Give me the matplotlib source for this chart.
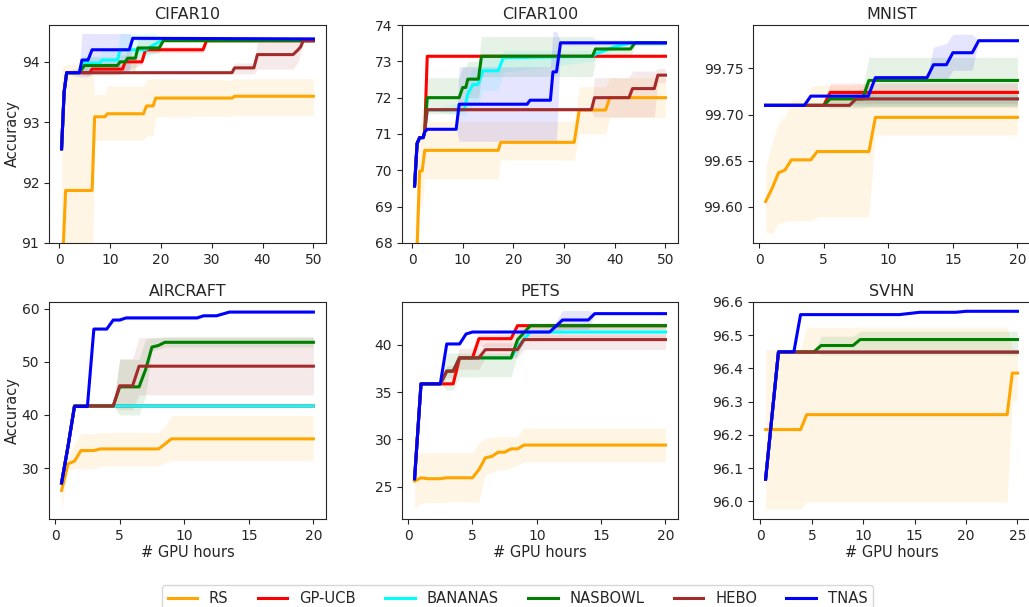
import matplotlib
matplotlib.use("Agg")
import matplotlib.pyplot as plt

METHODS = ["RS", "GP-UCB", "BANANAS", "NASBOWL", "HEBO", "TNAS"]
COLORS = ["orange", "red", "cyan", "green", "brown", "blue"]

# ---------------- CIFAR10 ----------------
C10_RS_X = [0.5, 1.3, 6.5, 7.0, 9.0, 9.5, 16.6, 17.2, 18.5, 19.0, 34.0, 34.5, 50]
C10_RS_Y = [90.3, 91.87, 91.87, 93.09, 93.09, 93.14, 93.14, 93.27, 93.27, 93.4, 93.4, 93.43, 93.43]
C10_RS_LO = [89.5, 90.0, 90.0, 92.7, 92.7, 92.7, 92.7, 92.77, 92.78, 93.09, 93.1, 93.11, 93.11]
C10_RS_HI = [93.9, 93.95, 93.95, 93.46, 93.46, 93.6, 93.6, 93.7, 93.73, 93.72, 93.7, 93.72, 93.72]
C10_GP_X = [0.5, 1.0, 1.5, 4.0, 6.0, 6.5, 12.5, 13.0, 16.3, 17.0, 28.3, 29.0, 50]
C10_GP_Y = [92.56, 93.5, 93.82, 93.82, 93.82, 93.88, 93.88, 94.0, 94.0, 94.2, 94.2, 94.35, 94.35]
C10_GP_LO = [92.56, 93.5, 93.82, 93.82, 93.8, 93.8, 93.8, 93.85, 93.95, 94.15, 94.15, 94.33, 94.33]
C10_GP_HI = [92.56, 93.5, 93.82, 93.82, 93.85, 93.95, 93.95, 94.1, 94.1, 94.25, 94.25, 94.37, 94.37]
C10_BA_X = [0.5, 1.0, 1.5, 4.0, 4.5, 8.0, 8.5, 11.5, 12.0, 17.0, 19.0, 20.5, 50]
C10_BA_Y = [92.56, 93.5, 93.82, 93.82, 93.98, 93.98, 94.03, 94.03, 94.2, 94.2, 94.3, 94.37, 94.37]
C10_BA_LO = [92.56, 93.5, 93.82, 93.82, 93.85, 93.85, 93.9, 93.9, 94.05, 94.05, 94.15, 94.35, 94.35]
C10_BA_HI = [92.56, 93.5, 93.82, 93.82, 94.1, 94.1, 94.2, 94.2, 94.47, 94.47, 94.47, 94.39, 94.39]
C10_NB_X = [0.5, 1.0, 1.5, 4.0, 5.0, 11.5, 12.0, 13.0, 13.5, 15.0, 15.5, 19.7, 20.5, 50]
C10_NB_Y = [92.56, 93.5, 93.82, 93.82, 93.94, 93.94, 94.0, 94.0, 94.06, 94.06, 94.23, 94.23, 94.35, 94.35]
C10_NB_LO = [92.56, 93.5, 93.82, 93.82, 93.78, 93.78, 93.8, 93.8, 93.85, 93.85, 94.1, 94.15, 94.33, 94.33]
C10_NB_HI = [92.56, 93.5, 93.82, 93.82, 94.08, 94.08, 94.12, 94.12, 94.2, 94.2, 94.38, 94.4, 94.37, 94.37]
C10_HB_X = [0.5, 1.0, 1.5, 4.0, 34.0, 34.5, 38.3, 39.0, 46.0, 47.0, 47.5, 48.0, 50]
C10_HB_Y = [92.56, 93.5, 93.82, 93.82, 93.82, 93.9, 93.9, 94.12, 94.12, 94.2, 94.25, 94.35, 94.35]
C10_HB_LO = [92.56, 93.5, 93.82, 93.82, 93.82, 93.8, 93.8, 93.88, 93.88, 94.0, 94.15, 94.33, 94.33]
C10_HB_HI = [92.56, 93.5, 93.82, 93.82, 93.82, 93.98, 93.98, 94.33, 94.33, 94.33, 94.35, 94.37, 94.37]
C10_TN_X = [0.5, 1.0, 1.5, 4.0, 4.5, 5.7, 6.5, 13.8, 14.5, 50]
C10_TN_Y = [92.56, 93.5, 93.82, 93.82, 94.03, 94.03, 94.2, 94.2, 94.39, 94.38]
C10_TN_LO = [92.56, 93.5, 93.8, 93.75, 93.75, 93.75, 93.8, 93.85, 94.36, 94.37]
C10_TN_HI = [92.56, 93.5, 93.85, 93.9, 94.47, 94.47, 94.47, 94.47, 94.42, 94.39]

# ---------------- CIFAR100 ----------------
C100_RS_X = [0.5, 1.0, 1.5, 2.0, 2.5, 17.0, 17.5, 32.0, 33.0, 38.2, 39.0, 50]
C100_RS_Y = [66.0, 67.9, 69.98, 69.98, 70.55, 70.55, 70.77, 70.77, 71.66, 71.66, 72.0, 72.0]
C100_RS_LO = [64.0, 66.0, 69.0, 69.0, 69.77, 69.77, 70.28, 70.28, 71.0, 71.0, 71.45, 71.45]
C100_RS_HI = [68.0, 70.0, 71.3, 71.3, 71.35, 71.35, 71.35, 71.35, 72.3, 72.3, 72.55, 72.55]
C100_GP_X = [0.5, 1.0, 1.5, 2.2, 2.5, 3.0, 50]
C100_GP_Y = [69.57, 70.74, 70.9, 70.9, 71.06, 73.14, 73.14]
C100_GP_LO = [69.57, 70.74, 70.9, 70.9, 71.06, 73.1, 73.1]
C100_GP_HI = [69.57, 70.74, 70.9, 70.9, 71.06, 73.18, 73.18]
C100_BA_X = [0.5, 1.0, 1.5, 2.2, 2.5, 3.0, 10.3, 11.0, 12.0, 13.0, 14.0, 17.0, 18.0, 35.6, 36.2, 40.0, 43.0, 50]
C100_BA_Y = [69.57, 70.74, 70.9, 70.9, 71.06, 71.66, 71.66, 72.1, 72.36, 72.36, 72.74, 72.74, 73.1, 73.14, 73.2, 73.4, 73.51, 73.51]
C100_BA_LO = [69.57, 70.74, 70.9, 70.9, 71.06, 71.66, 71.5, 71.6, 71.8, 71.8, 72.2, 72.2, 72.7, 73.0, 73.1, 73.3, 73.45, 73.45]
C100_BA_HI = [69.57, 70.74, 70.9, 70.9, 71.06, 71.66, 71.9, 72.5, 72.8, 72.8, 73.1, 73.1, 73.3, 73.3, 73.35, 73.5, 73.56, 73.56]
C100_NB_X = [0.5, 1.0, 1.5, 2.2, 2.5, 3.0, 9.3, 10.0, 10.6, 11.0, 13.1, 13.7, 35.6, 36.2, 43.1, 44.0, 50]
C100_NB_Y = [69.57, 70.74, 70.9, 70.9, 71.06, 72.0, 72.0, 72.28, 72.28, 72.51, 72.51, 73.14, 73.14, 73.34, 73.34, 73.51, 73.51]
C100_NB_LO = [69.57, 70.74, 70.9, 70.9, 71.06, 71.56, 71.56, 71.8, 71.8, 72.0, 72.0, 72.58, 72.58, 73.1, 73.1, 73.45, 73.45]
C100_NB_HI = [69.57, 70.74, 70.9, 70.9, 71.06, 72.55, 72.55, 72.85, 72.85, 73.0, 73.0, 73.68, 73.68, 73.6, 73.6, 73.56, 73.56]
C100_HB_X = [0.5, 1.0, 1.5, 2.2, 2.5, 3.0, 35.4, 36.0, 42.8, 43.5, 47.8, 48.5, 50]
C100_HB_Y = [69.57, 70.74, 70.9, 70.9, 71.06, 71.67, 71.67, 72.0, 72.0, 72.25, 72.25, 72.62, 72.62]
C100_HB_LO = [69.57, 70.74, 70.9, 70.9, 71.06, 71.62, 71.62, 71.47, 71.47, 71.47, 71.47, 72.42, 72.42]
C100_HB_HI = [69.57, 70.74, 70.9, 70.9, 71.06, 71.72, 71.72, 72.55, 72.55, 72.73, 72.73, 72.8, 72.8]
C100_TN_X = [0.5, 1.0, 1.5, 2.2, 2.5, 3.0, 8.7, 9.3, 22.7, 23.3, 27.3, 27.8, 28.5, 29.3, 50]
C100_TN_Y = [69.57, 70.74, 70.9, 70.9, 71.06, 71.13, 71.13, 71.82, 71.82, 71.93, 71.93, 72.71, 72.71, 73.51, 73.51]
C100_TN_LO = [69.57, 70.74, 70.9, 70.9, 71.06, 71.13, 71.13, 70.8, 70.8, 70.8, 70.8, 70.8, 70.8, 73.45, 73.45]
C100_TN_HI = [69.57, 70.74, 70.9, 70.9, 71.06, 71.13, 71.13, 72.85, 72.85, 72.85, 72.85, 73.83, 73.83, 73.56, 73.56]

# ---------------- MNIST ----------------
MN_RS_X = [0.5, 1.0, 1.5, 2.0, 2.5, 3.5, 4.0, 4.5, 8.5, 9.0, 20]
MN_RS_Y = [99.606, 99.62, 99.637, 99.64, 99.651, 99.651, 99.651, 99.66, 99.66, 99.697, 99.697]
MN_RS_LO = [99.573, 99.571, 99.582, 99.584, 99.585, 99.585, 99.585, 99.589, 99.589, 99.678, 99.678]
MN_RS_HI = [99.643, 99.669, 99.692, 99.698, 99.716, 99.716, 99.73, 99.732, 99.732, 99.716, 99.716]
MN_GP_X = [0.5, 5.0, 5.5, 20]
MN_GP_Y = [99.71, 99.71, 99.724, 99.724]
MN_GP_LO = [99.71, 99.71, 99.712, 99.712]
MN_GP_HI = [99.71, 99.71, 99.734, 99.734]
MN_BA_X = [0.5, 7.0, 7.5, 20]
MN_BA_Y = [99.71, 99.71, 99.717, 99.717]
MN_BA_LO = [99.71, 99.71, 99.71, 99.71]
MN_BA_HI = [99.71, 99.71, 99.722, 99.722]
MN_NB_X = [0.5, 5.0, 5.5, 8.0, 8.5, 20]
MN_NB_Y = [99.71, 99.71, 99.717, 99.717, 99.737, 99.737]
MN_NB_LO = [99.71, 99.71, 99.707, 99.707, 99.708, 99.708]
MN_NB_HI = [99.71, 99.71, 99.727, 99.727, 99.762, 99.762]
MN_HB_X = [0.5, 7.0, 7.5, 20]
MN_HB_Y = [99.71, 99.71, 99.717, 99.717]
MN_HB_LO = [99.71, 99.71, 99.709, 99.709]
MN_HB_HI = [99.71, 99.71, 99.727, 99.727]
MN_TN_X = [0.5, 3.5, 4.0, 8.45, 9.0, 13.0, 13.5, 14.5, 15.0, 16.5, 17.0, 20]
MN_TN_Y = [99.71, 99.71, 99.72, 99.72, 99.74, 99.74, 99.754, 99.754, 99.767, 99.767, 99.78, 99.78]
MN_TN_LO = [99.71, 99.71, 99.72, 99.72, 99.74, 99.74, 99.736, 99.736, 99.748, 99.748, 99.78, 99.78]
MN_TN_HI = [99.71, 99.71, 99.72, 99.72, 99.74, 99.74, 99.773, 99.777, 99.787, 99.787, 99.78, 99.78]

# ---------------- AIRCRAFT ----------------
AC_RS_X = [0.5, 1.0, 1.5, 2.0, 3.0, 3.5, 8.0, 8.5, 9.0, 20]
AC_RS_Y = [25.8, 30.8, 31.3, 33.3, 33.3, 33.6, 33.6, 34.5, 35.5, 35.5]
AC_RS_LO = [22.3, 29.7, 29.8, 29.9, 29.9, 30.4, 30.4, 31.0, 31.4, 31.4]
AC_RS_HI = [27.8, 32.2, 34.5, 36.5, 36.5, 36.7, 36.7, 37.9, 39.9, 39.9]
AC_GP_X = [0.5, 1.0, 1.5, 20]
AC_GP_Y = [27.2, 34.1, 41.7, 41.7]
AC_GP_LO = [27.2, 34.1, 41.7, 41.7]
AC_GP_HI = [27.2, 34.1, 41.7, 41.7]
AC_BA_X = [0.5, 1.0, 1.5, 20]
AC_BA_Y = [27.2, 34.1, 41.7, 41.7]
AC_BA_LO = [27.2, 34.1, 41.7, 41.7]
AC_BA_HI = [27.2, 34.1, 41.7, 41.7]
AC_NB_X = [0.5, 1.0, 1.5, 4.5, 5.0, 6.5, 7.0, 7.5, 8.0, 8.5, 20]
AC_NB_Y = [27.2, 34.1, 41.7, 41.7, 45.3, 45.3, 48.5, 52.8, 53.1, 53.7, 53.7]
AC_NB_LO = [27.2, 34.1, 41.7, 41.7, 40.0, 40.0, 43.5, 52.0, 52.4, 52.8, 52.8]
AC_NB_HI = [27.2, 34.1, 41.7, 41.7, 50.5, 50.5, 54.3, 54.5, 54.6, 54.8, 54.8]
AC_HB_X = [0.5, 1.0, 1.5, 4.5, 5.0, 6.0, 6.5, 20]
AC_HB_Y = [27.2, 34.1, 41.7, 41.7, 45.5, 45.5, 49.2, 49.2]
AC_HB_LO = [27.2, 34.1, 41.7, 41.7, 41.0, 41.0, 43.8, 43.8]
AC_HB_HI = [27.2, 34.1, 41.7, 41.7, 50.6, 50.6, 54.6, 54.6]
AC_TN_X = [0.5, 1.0, 1.5, 2.5, 3.0, 4.0, 4.5, 5.0, 5.5, 11.0, 11.5, 12.5, 13.5, 20]
AC_TN_Y = [27.2, 34.1, 41.6, 41.6, 56.2, 56.2, 57.9, 57.9, 58.3, 58.3, 58.7, 58.7, 59.4, 59.4]
AC_TN_LO = [27.2, 34.1, 41.6, 41.6, 56.0, 56.0, 57.6, 57.6, 58.0, 58.0, 58.5, 58.5, 59.2, 59.2]
AC_TN_HI = [27.2, 34.1, 41.6, 41.6, 56.4, 56.4, 58.2, 58.2, 58.6, 58.6, 58.9, 58.9, 59.6, 59.6]

# ---------------- PETS ----------------
PT_RS_X = [0.5, 1.0, 1.5, 2.5, 3.0, 5.0, 5.5, 6.0, 6.5, 7.0, 7.5, 8.0, 8.5, 9.0, 20]
PT_RS_Y = [25.6, 25.95, 25.85, 25.85, 25.95, 25.95, 26.8, 28.06, 28.2, 28.65, 28.65, 29.0, 29.0, 29.4, 29.4]
PT_RS_LO = [22.7, 23.3, 23.3, 23.3, 23.4, 23.4, 23.4, 26.3, 26.5, 26.8, 26.8, 27.0, 27.3, 27.6, 27.6]
PT_RS_HI = [28.6, 28.6, 28.6, 28.6, 28.6, 28.6, 29.6, 30.1, 30.2, 30.3, 30.3, 30.3, 30.3, 31.2, 31.2]
PT_GP_X = [0.5, 1.0, 2.5, 3.5, 4.0, 5.0, 5.5, 8.0, 8.5, 20]
PT_GP_Y = [25.85, 35.86, 35.86, 35.86, 38.6, 38.6, 40.63, 40.63, 42.0, 42.0]
PT_GP_LO = [25.85, 35.86, 35.86, 35.86, 38.6, 38.6, 39.8, 39.8, 40.8, 40.8]
PT_GP_HI = [25.85, 35.86, 35.86, 35.86, 38.6, 38.6, 41.1, 41.1, 42.2, 42.2]
PT_BA_X = [0.5, 1.0, 2.5, 3.0, 3.5, 4.0, 8.0, 8.5, 9.5, 20]
PT_BA_Y = [25.85, 35.86, 35.86, 37.2, 37.2, 38.6, 38.6, 39.8, 41.33, 41.33]
PT_BA_LO = [25.85, 35.86, 35.86, 37.2, 37.2, 38.6, 38.6, 38.9, 41.1, 41.1]
PT_BA_HI = [25.85, 35.86, 35.86, 37.2, 37.2, 38.6, 38.6, 40.5, 41.5, 41.5]
PT_NB_X = [0.5, 1.0, 2.5, 3.0, 3.5, 4.0, 8.0, 8.5, 9.5, 20]
PT_NB_Y = [25.85, 35.86, 35.86, 37.2, 37.2, 38.6, 38.6, 40.5, 42.0, 42.0]
PT_NB_LO = [25.85, 35.86, 35.86, 35.2, 35.2, 36.6, 36.6, 39.0, 41.6, 41.6]
PT_NB_HI = [25.85, 35.86, 35.86, 39.1, 39.1, 39.1, 39.1, 41.5, 42.3, 42.3]
PT_HB_X = [0.5, 1.0, 2.5, 3.0, 3.5, 4.0, 5.5, 6.0, 8.5, 9.0, 20]
PT_HB_Y = [25.85, 35.86, 35.86, 37.2, 37.2, 38.6, 38.6, 39.47, 39.47, 40.53, 40.53]
PT_HB_LO = [25.85, 35.86, 35.86, 36.5, 36.5, 37.4, 37.4, 38.6, 38.6, 39.5, 39.5]
PT_HB_HI = [25.85, 35.86, 35.86, 37.8, 37.8, 39.6, 39.6, 40.2, 40.2, 41.05, 41.05]
PT_TN_X = [0.5, 1.0, 2.5, 3.0, 4.0, 4.5, 5.0, 11.0, 12.0, 14.0, 14.5, 20]
PT_TN_Y = [25.85, 35.86, 35.86, 40.07, 40.07, 41.12, 41.33, 41.33, 42.6, 42.6, 43.27, 43.27]
PT_TN_LO = [25.85, 35.86, 35.86, 40.07, 40.07, 41.12, 41.33, 41.33, 41.6, 41.6, 43.2, 43.2]
PT_TN_HI = [25.85, 35.86, 35.86, 40.07, 40.07, 41.12, 41.33, 41.33, 43.6, 43.6, 43.35, 43.35]

# ---------------- SVHN ----------------
SV_RS_X = [0.5, 3.9, 4.5, 24.0, 24.5, 25]
SV_RS_Y = [96.216, 96.216, 96.261, 96.261, 96.386, 96.386]
SV_RS_LO = [95.977, 95.977, 95.998, 95.998, 96.303, 96.303]
SV_RS_HI = [96.457, 96.457, 96.524, 96.524, 96.457, 96.457]
SV_GP_X = [0.5, 1.75, 25]
SV_GP_Y = [96.067, 96.449, 96.449]
SV_BA_X = [0.5, 1.75, 25]
SV_BA_Y = [96.067, 96.449, 96.449]
SV_NB_X = [0.5, 1.75, 3.25, 5.2, 5.9, 9.0, 9.7, 25]
SV_NB_Y = [96.067, 96.45, 96.45, 96.45, 96.469, 96.469, 96.487, 96.487]
SV_NB_LO = [96.067, 96.45, 96.45, 96.45, 96.44, 96.44, 96.44, 96.44]
SV_NB_HI = [96.067, 96.45, 96.45, 96.45, 96.497, 96.497, 96.512, 96.512]
SV_HB_X = [0.5, 1.75, 25]
SV_HB_Y = [96.067, 96.449, 96.449]
SV_TN_X = [0.5, 1.75, 3.25, 3.9, 13.5, 15.5, 19.0, 20.0, 25]
SV_TN_Y = [96.067, 96.45, 96.45, 96.562, 96.562, 96.569, 96.569, 96.572, 96.572]

TITLES = ["CIFAR10", "CIFAR100", "MNIST", "AIRCRAFT", "PETS", "SVHN"]
XTICKS = [[0, 10, 20, 30, 40, 50], [0, 10, 20, 30, 40, 50], [0, 5, 10, 15, 20],
          [0, 5, 10, 15, 20], [0, 5, 10, 15, 20], [0, 5, 10, 15, 20, 25]]
YTICKS = [[91, 92, 93, 94], [68, 69, 70, 71, 72, 73, 74], [99.60, 99.65, 99.70, 99.75],
          [30, 40, 50, 60], [25, 30, 35, 40], [96.0, 96.1, 96.2, 96.3, 96.4, 96.5, 96.6]]
YFMT = ["{:.0f}", "{:.0f}", "{:.2f}", "{:.0f}", "{:.0f}", "{:.1f}"]
YLIMS = [(91, 94.61), (68, 74), (99.561, 99.797), (20.4, 61.3), (21.6, 44.5), (95.947, 96.6)]

PANELS = [
    [(C10_RS_X, C10_RS_Y, C10_RS_LO, C10_RS_HI), (C10_GP_X, C10_GP_Y, C10_GP_LO, C10_GP_HI),
     (C10_BA_X, C10_BA_Y, C10_BA_LO, C10_BA_HI), (C10_NB_X, C10_NB_Y, C10_NB_LO, C10_NB_HI),
     (C10_HB_X, C10_HB_Y, C10_HB_LO, C10_HB_HI), (C10_TN_X, C10_TN_Y, C10_TN_LO, C10_TN_HI)],
    [(C100_RS_X, C100_RS_Y, C100_RS_LO, C100_RS_HI), (C100_GP_X, C100_GP_Y, C100_GP_LO, C100_GP_HI),
     (C100_BA_X, C100_BA_Y, C100_BA_LO, C100_BA_HI), (C100_NB_X, C100_NB_Y, C100_NB_LO, C100_NB_HI),
     (C100_HB_X, C100_HB_Y, C100_HB_LO, C100_HB_HI), (C100_TN_X, C100_TN_Y, C100_TN_LO, C100_TN_HI)],
    [(MN_RS_X, MN_RS_Y, MN_RS_LO, MN_RS_HI), (MN_GP_X, MN_GP_Y, MN_GP_LO, MN_GP_HI),
     (MN_BA_X, MN_BA_Y, MN_BA_LO, MN_BA_HI), (MN_NB_X, MN_NB_Y, MN_NB_LO, MN_NB_HI),
     (MN_HB_X, MN_HB_Y, MN_HB_LO, MN_HB_HI), (MN_TN_X, MN_TN_Y, MN_TN_LO, MN_TN_HI)],
    [(AC_RS_X, AC_RS_Y, AC_RS_LO, AC_RS_HI), (AC_GP_X, AC_GP_Y, AC_GP_LO, AC_GP_HI),
     (AC_BA_X, AC_BA_Y, AC_BA_LO, AC_BA_HI), (AC_NB_X, AC_NB_Y, AC_NB_LO, AC_NB_HI),
     (AC_HB_X, AC_HB_Y, AC_HB_LO, AC_HB_HI), (AC_TN_X, AC_TN_Y, AC_TN_LO, AC_TN_HI)],
    [(PT_RS_X, PT_RS_Y, PT_RS_LO, PT_RS_HI), (PT_GP_X, PT_GP_Y, PT_GP_LO, PT_GP_HI),
     (PT_BA_X, PT_BA_Y, PT_BA_LO, PT_BA_HI), (PT_NB_X, PT_NB_Y, PT_NB_LO, PT_NB_HI),
     (PT_HB_X, PT_HB_Y, PT_HB_LO, PT_HB_HI), (PT_TN_X, PT_TN_Y, PT_TN_LO, PT_TN_HI)],
    [(SV_RS_X, SV_RS_Y, SV_RS_LO, SV_RS_HI), (SV_GP_X, SV_GP_Y, None, None),
     (SV_BA_X, SV_BA_Y, None, None), (SV_NB_X, SV_NB_Y, SV_NB_LO, SV_NB_HI),
     (SV_HB_X, SV_HB_Y, None, None), (SV_TN_X, SV_TN_Y, None, None)],
]

INK = "0.15"
plt.rcParams.update({"text.color": INK, "axes.labelcolor": INK, "xtick.color": INK,
                     "ytick.color": INK, "axes.edgecolor": INK})

fig = plt.figure(figsize=(10.29, 6.07), dpi=100)
RECTS = [
    (0.0476, 0.5997, 0.2692, 0.3591), (0.3907, 0.5997, 0.2682, 0.3591), (0.7318, 0.5997, 0.2692, 0.3591),
    (0.0476, 0.1450, 0.2692, 0.3575), (0.3907, 0.1450, 0.2682, 0.3575), (0.7318, 0.1450, 0.2692, 0.3575),
]

handles = []
for i, panel in enumerate(PANELS):
    ax = fig.add_axes(RECTS[i])
    for j, (xs, ys, lo, hi) in enumerate(panel):
        if lo is not None:
            ax.fill_between(xs, lo, hi, color=COLORS[j], alpha=0.1, linewidth=0)
    for j, (xs, ys, lo, hi) in enumerate(panel):
        ln, = ax.plot(xs, ys, color=COLORS[j], lw=2.2, label=METHODS[j])
        if i == 0:
            handles.append(ln)
    ax.set_title(TITLES[i], fontsize=11.5, pad=4)
    ax.set_xticks(XTICKS[i])
    ax.set_yticks(YTICKS[i])
    ax.set_yticklabels([YFMT[i].format(v) for v in YTICKS[i]])
    ax.set_ylim(*YLIMS[i])
    ax.tick_params(labelsize=10)
    if i % 3 == 0:
        ax.set_ylabel("Accuracy", fontsize=10.5, labelpad=1)
    if i >= 3:
        ax.set_xlabel("# GPU hours", fontsize=10.5, labelpad=2)

fig.legend(handles, METHODS, loc="upper center", bbox_to_anchor=(0.503, 0.0362),
           ncol=6, fontsize=10.6, borderaxespad=0, frameon=True)

fig.savefig("out.png", dpi=100)
